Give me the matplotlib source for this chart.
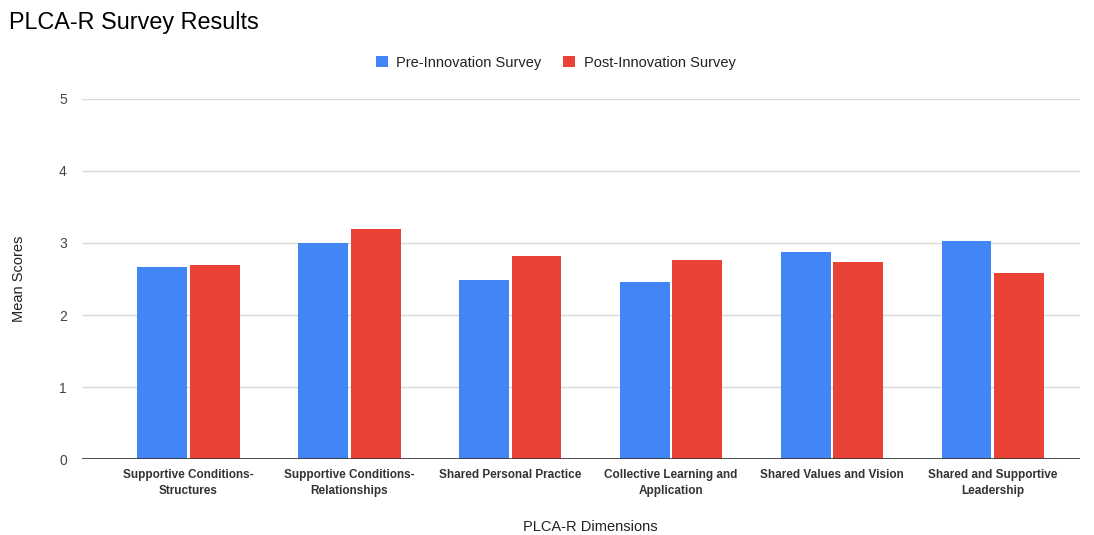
import numpy as np
import matplotlib.pyplot as plt

plt.rcParams['font.family'] = ['Liberation Sans', 'DejaVu Sans']

# survey data
dimensions = [
    "Supportive Conditions-\nStructures",
    "Supportive Conditions-\nRelationships",
    "Shared Personal Practice",
    "Collective Learning and\nApplication",
    "Shared Values and Vision",
    "Shared and Supportive\nLeadership",
]
pre_scores = [2.66, 3.00, 2.48, 2.46, 2.875, 3.03]
post_scores = [2.69, 3.19, 2.815, 2.76, 2.73, 2.58]

fig = plt.figure(figsize=(10.94, 5.35), dpi=100)
ax = fig.add_axes([0.075, 0.142, 0.912, 0.673])

x = np.arange(len(dimensions))
w = 0.31
ax.bar(x - 0.164, pre_scores, w, color='#4285F4', label='Pre-Innovation Survey', zorder=3)
ax.bar(x + 0.164, post_scores, w, color='#EA4335', label='Post-Innovation Survey', zorder=3)

ax.set_xlim(-0.66, 5.54)
ax.set_ylim(0, 5)
ax.set_yticks([0, 1, 2, 3, 4, 5])
ax.yaxis.grid(True, color='#d9d9d9', linewidth=1, zorder=0)
ax.axhline(0, color='#333333', linewidth=1.2, zorder=4)
for s in ax.spines.values():
    s.set_visible(False)
ax.tick_params(axis='both', length=0)
ax.tick_params(axis='y', labelsize=10, colors='#444444', pad=11)
ax.set_xticks(x)
ax.set_xticklabels(dimensions, fontsize=8.5, fontweight='bold', color='#333333',
                   linespacing=1.5)
ax.tick_params(axis='x', pad=7)

ax.set_ylabel('Mean Scores', fontsize=10.5, color='#222222', labelpad=24)
fig.text(0.54, 0.008, 'PLCA-R Dimensions', fontsize=10.5, color='#222222', ha='center')

fig.text(0.008, 0.945, 'PLCA-R Survey Results', fontsize=16.8, color='#000000')

fig.legend(loc='center', bbox_to_anchor=(0.508, 0.883), ncol=2, frameon=False,
           fontsize=10.5, handlelength=0.8, handleheight=0.8, columnspacing=1.5,
           handletextpad=0.6, labelcolor='#222222')

fig.savefig('out.png', dpi=100)
